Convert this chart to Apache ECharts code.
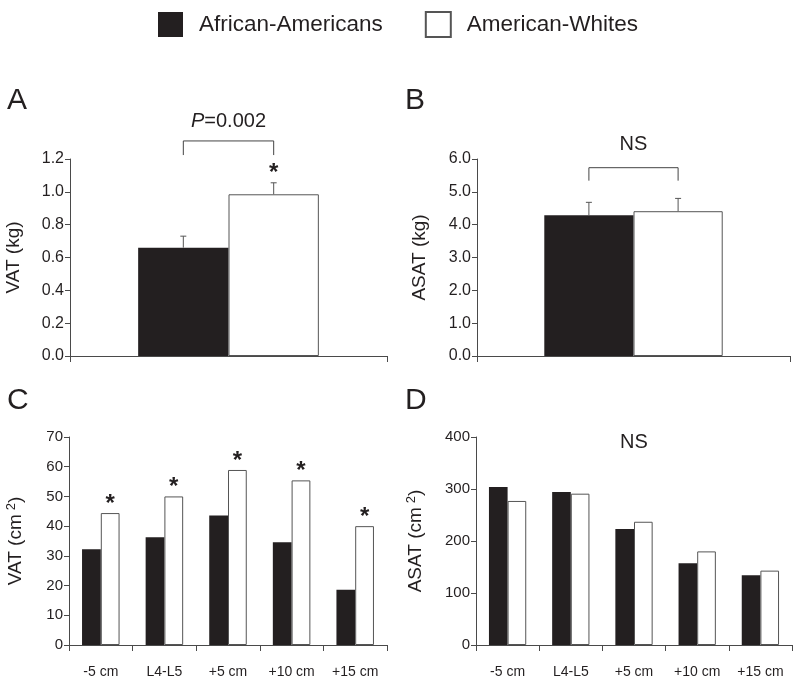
<!DOCTYPE html>
<html><head><meta charset="utf-8">
<script src="https://cdn.jsdelivr.net/npm/echarts@6/dist/echarts.min.js"></script>
<style>html,body{margin:0;padding:0;background:#fff}#c{width:800px;height:682px}</style>
</head><body><div id="c"></div>
<script>
// ---------- data ----------
const groups = ['African-Americans', 'American-Whites'];
const totalCategory = ['Total'];
const vatKgAA = [0.66];
const vatKgAW = [0.985];
const vatKgErrAA = [0.07];
const vatKgErrAW = [0.07];
const asatKgAA = [4.29];
const asatKgAW = [4.41];
const asatKgErrAA = [0.39];
const asatKgErrAW = [0.39];
const slices = ['-5 cm', 'L4-L5', '+5 cm', '+10 cm', '+15 cm'];
const vatAA = [32.2, 36.3, 43.6, 34.6, 18.6];
const vatAW = [44.4, 50.0, 58.9, 55.4, 40.0];
const asatAA = [304, 294, 223, 157, 134];
const asatAW = [277, 291, 237, 180, 143];
const vatSignificant = [true, true, true, true, true];
const kgTicks = {A: [0, 1.2, 0.2], B: [0, 6, 1]};
const cmTicks = {C: [0, 70, 10], D: [0, 400, 100]};

// ---------- styling ----------
const FONT = '"Liberation Sans", Arial, Helvetica, sans-serif';
const TXT = '#231f20';
const AXC = '#4a4a4a';
const BLACK = '#231f20';
const GAP_KG = 0.43;
const GAP_CM = 0.41;

const chart = echarts.init(document.getElementById('c'), null, {renderer: 'canvas'});

function yAxis(grid, rng, name, nameGap, fs, dec) {
  return {
    type: 'value', gridIndex: grid, min: rng[0], max: rng[1], interval: rng[2],
    name: name, nameLocation: 'middle', nameGap: nameGap, nameRotate: 90,
    nameTextStyle: {fontFamily: FONT, fontSize: 19, color: TXT,
      rich: {sup: {fontFamily: FONT, fontSize: 13, color: TXT, verticalAlign: 'top', padding: [0, 0, 8, 4]}}},
    axisLine: {show: true, lineStyle: {color: AXC, width: 1}},
    axisTick: {show: true, length: 5, lineStyle: {color: AXC}},
    axisLabel: {fontFamily: FONT, fontSize: fs, color: TXT, margin: 6,
      formatter: v => dec ? v.toFixed(1) : String(v)},
    splitLine: {show: false}
  };
}
function xAxis(grid, cats, showLabel) {
  return {
    type: 'category', gridIndex: grid, data: cats,
    axisLine: {show: true, lineStyle: {color: AXC, width: 1}},
    axisTick: {show: true, length: 6, lineStyle: {color: AXC}},
    axisLabel: {show: showLabel, fontFamily: FONT, fontSize: 14, color: TXT, margin: 20},
    splitLine: {show: false}
  };
}
function bars(gi, aa, aw, gap) {
  return [
    {name: groups[0], type: 'bar', xAxisIndex: gi, yAxisIndex: gi, data: aa,
      barGap: '0%', barCategoryGap: (gap * 100) + '%',
      itemStyle: {color: BLACK, borderColor: BLACK, borderWidth: 0}, silent: true},
    {name: groups[1], type: 'bar', xAxisIndex: gi, yAxisIndex: gi, data: aw,
      barGap: '0%', barCategoryGap: (gap * 100) + '%',
      itemStyle: {color: '#ffffff', borderColor: '#555555', borderWidth: 1}, silent: true}
  ];
}
function barCenter(api, cat, which, gap) {
  const c = api.coord([cat, 0]);
  const w = api.size([1, 0])[0];
  const bw = w * (1 - gap) / 2;
  return c[0] + (which === 0 ? -bw / 2 : bw / 2);
}
// error bars: [cat, group, mean, err]
function errSeries(gi, rows, gap, star) {
  return {
    type: 'custom', xAxisIndex: gi, yAxisIndex: gi, silent: true, z: 5,
    data: rows,
    renderItem: (params, api) => {
      const cat = api.value(0), g = api.value(1), m = api.value(2), e = api.value(3);
      const x = barCenter(api, cat, g, gap);
      const yb = api.coord([cat, m])[1];
      const yt = api.coord([cat, m + e])[1];
      const kids = [
        {type: 'line', shape: {x1: x, y1: yb, x2: x, y2: yt}, style: {stroke: '#555', lineWidth: 1}},
        {type: 'line', shape: {x1: x - 3, y1: yt, x2: x + 3, y2: yt}, style: {stroke: '#555', lineWidth: 1}}
      ];
      if (star && g === 1) kids.push({type: 'text', style: {text: '*', x: x, y: yt - 9, fill: TXT,
        font: 'bold 24px ' + FONT, textAlign: 'center', textVerticalAlign: 'middle'}});
      return {type: 'group', children: kids};
    }
  };
}
// bracket: [cat, topValue, dropValue, labelValue]
function bracketSeries(gi, rows, gap, label) {
  return {
    type: 'custom', xAxisIndex: gi, yAxisIndex: gi, silent: true, z: 5,
    data: rows,
    renderItem: (params, api) => {
      const cat = api.value(0);
      const x1 = barCenter(api, cat, 0, gap), x2 = barCenter(api, cat, 1, gap);
      const yt = api.coord([cat, api.value(1)])[1];
      const yd = api.coord([cat, api.value(2)])[1];
      const yl = api.coord([cat, api.value(3)])[1];
      return {type: 'group', children: [
        {type: 'polyline', shape: {points: [[x1, yd], [x1, yt], [x2, yt], [x2, yd]]},
          style: {stroke: '#444', lineWidth: 1, fill: null}},
        {type: 'text', style: {text: label, x: (x1 + x2) / 2, y: yl, fill: TXT,
          font: '20px ' + FONT, textAlign: 'center', textVerticalAlign: 'middle',
          rich: {i: {fontStyle: 'italic', fontSize: 20, fontFamily: FONT, fill: TXT}}}}
      ]};
    }
  };
}
// star above white bars
function starSeries(gi, vals, flags, gap) {
  return {
    type: 'custom', xAxisIndex: gi, yAxisIndex: gi, silent: true, z: 5,
    data: vals.map((v, i) => [i, v, flags[i] ? 1 : 0]),
    renderItem: (params, api) => {
      if (!api.value(2)) return null;
      const cat = api.value(0);
      const x = barCenter(api, cat, 1, gap);
      const y = api.coord([cat, api.value(1)])[1];
      return {type: 'text', style: {text: '*', x: x, y: y - 9, fill: TXT,
        font: 'bold 24px ' + FONT, textAlign: 'center', textVerticalAlign: 'middle'}};
    }
  };
}
function textAt(gi, cat, val, txt) {
  return {
    type: 'custom', xAxisIndex: gi, yAxisIndex: gi, silent: true, z: 5,
    data: [[cat, val]],
    renderItem: (params, api) => {
      const p = api.coord([api.value(0), api.value(1)]);
      return {type: 'text', style: {text: txt, x: p[0], y: p[1], fill: TXT,
        font: '20px ' + FONT, textAlign: 'center', textVerticalAlign: 'middle'}};
    }
  };
}

const option = {
  animation: false,
  backgroundColor: '#ffffff',
  legend: {
    data: groups, left: 153, top: 6, icon: 'rect', itemWidth: 25, itemHeight: 25, itemGap: 42,
    textStyle: {fontFamily: FONT, fontSize: 22.5, color: TXT, padding: [0, 0, 0, 11]},
    selectedMode: false
  },
  graphic: [
    {type: 'text', left: 7, top: 86, style: {text: 'A', font: '30px ' + FONT, fill: TXT}},
    {type: 'text', left: 405, top: 86, style: {text: 'B', font: '30px ' + FONT, fill: TXT}},
    {type: 'text', left: 7, top: 386, style: {text: 'C', font: '30px ' + FONT, fill: TXT}},
    {type: 'text', left: 405, top: 386, style: {text: 'D', font: '30px ' + FONT, fill: TXT}}
  ],
  grid: [
    {left: 70, right: 413, top: 159, bottom: 326},
    {left: 477, right: 10, top: 159, bottom: 326},
    {left: 69, right: 413, top: 437, bottom: 37},
    {left: 476, right: 8, top: 437, bottom: 37}
  ],
  xAxis: [
    xAxis(0, totalCategory, false), xAxis(1, totalCategory, false),
    xAxis(2, slices, true), xAxis(3, slices, true)
  ],
  yAxis: [
    yAxis(0, kgTicks.A, 'VAT (kg)', 47, 16, true),
    yAxis(1, kgTicks.B, 'ASAT (kg)', 48, 16, true),
    yAxis(2, cmTicks.C, 'VAT (cm{sup|2})', 43, 15, false),
    yAxis(3, cmTicks.D, 'ASAT (cm{sup|2})', 50, 15, false)
  ],
  series: [
    ...bars(0, vatKgAA, vatKgAW, GAP_KG),
    ...bars(1, asatKgAA, asatKgAW, GAP_KG),
    ...bars(2, vatAA, vatAW, GAP_CM),
    ...bars(3, asatAA, asatAW, GAP_CM),
    errSeries(0, [[0, 0, vatKgAA[0], vatKgErrAA[0]], [0, 1, vatKgAW[0], vatKgErrAW[0]]], GAP_KG, true),
    errSeries(1, [[0, 0, asatKgAA[0], asatKgErrAA[0]], [0, 1, asatKgAW[0], asatKgErrAW[0]]], GAP_KG, false),
    bracketSeries(0, [[0, 1.31, 1.224, 1.427]], GAP_KG, '{i|P}=0.002'),
    bracketSeries(1, [[0, 5.735, 5.34, 6.43]], GAP_KG, 'NS'),
    starSeries(2, vatAW, vatSignificant, GAP_CM),
    textAt(3, 2, 390, 'NS')
  ]
};
chart.setOption(option);
</script></body></html>
